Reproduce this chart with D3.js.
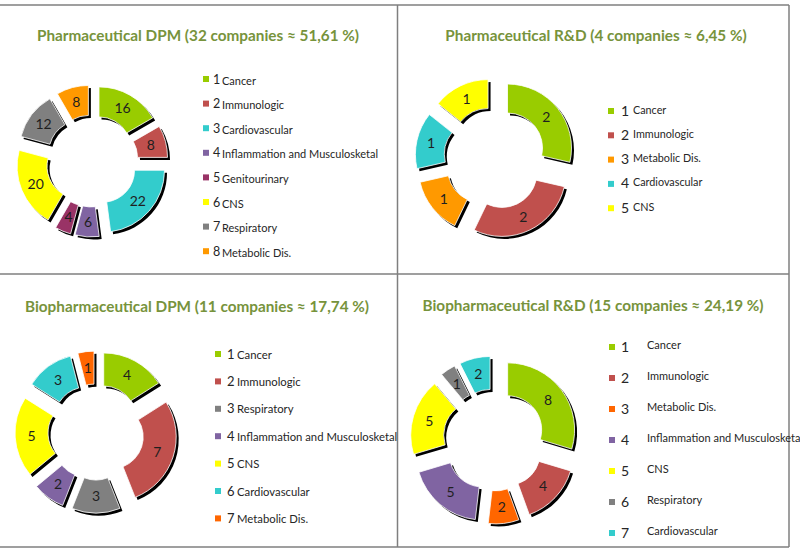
<!DOCTYPE html>
<html>
<head lang="en">
    <meta charset="UTF-8">
    <title>Therapeutic areas</title>
    <script src="https://cdn.jsdelivr.net/npm/d3@7"></script>
    <style>
        body { margin: 0; background: #fff; }
        text { font-family: Lato, "Open Sans", sans-serif; }
    </style>
</head>
<body>
<script>
    // chart data
    var titles = [
        "Pharmaceutical DPM (32 companies \u2248  51,61 %)",
        "Pharmaceutical R&D (4 companies \u2248  6,45 %)",
        "Biopharmaceutical DPM (11 companies \u2248 17,74 %)",
        "Biopharmaceutical R&D (15 companies \u2248 24,19 %)"
    ];
    var phDpmCats = ["Cancer", "Immunologic", "Cardiovascular", "Inflammation and Musculosketal", "Genitourinary", "CNS", "Respiratory", "Metabolic Dis."];
    var phDpmValues = [16, 8, 22, 6, 4, 20, 12, 8];
    var phRdCats = ["Cancer", "Immunologic", "Metabolic Dis.", "Cardiovascular", "CNS"];
    var phRdValues = [2, 2, 1, 1, 1];
    var bioDpmCats = ["Cancer", "Immunologic", "Respiratory", "Inflammation and Musculosketal", "CNS", "Cardiovascular", "Metabolic Dis."];
    var bioDpmValues = [4, 7, 3, 2, 5, 3, 1];
    var bioRdCats = ["Cancer", "Immunologic", "Metabolic Dis.", "Inflammation and Musculosketal", "CNS", "Respiratory", "Cardiovascular"];
    var bioRdValues = [8, 4, 2, 5, 5, 1, 2];

    var colorOf = {
        "Cancer": "#99CC00",
        "Immunologic": "#C0504D",
        "Cardiovascular": "#33CCCC",
        "Inflammation and Musculosketal": "#8064A2",
        "Genitourinary": "#993366",
        "CNS": "#FFFF00",
        "Respiratory": "#808080",
        "Metabolic Dis.": "#FF9900"
    };
    var bioMetabolic = "#FF6600";

    var svg = d3.select("body").append("svg")
            .attr("width", 800)
            .attr("height", 548);

    // panel frame
    var frame = svg.append("g").attr("stroke", "#7f7f7f").attr("stroke-width", 1.5);
    frame.append("line").attr("x1", 0).attr("x2", 789).attr("y1", 5).attr("y2", 5);
    frame.append("line").attr("x1", 0).attr("x2", 789).attr("y1", 274).attr("y2", 274);
    frame.append("line").attr("x1", 0).attr("x2", 789).attr("y1", 547).attr("y2", 547);
    frame.append("line").attr("x1", 397.5).attr("x2", 397.5).attr("y1", 5).attr("y2", 547);
    frame.append("line").attr("x1", 789).attr("x2", 789).attr("y1", 5).attr("y2", 547);

    var panels = [
        {title: titles[0], tx: 198, ty: 41, cats: phDpmCats, values: phDpmValues, bio: false,
         cx: 92, cy: 161, R: 62, r: 32, e: 14,
         lx: 203, ly: 79, step: 24.6, nx: 213, labx: 222, nsize: 12.5, lsize: 11, lshift: 1},
        {title: titles[1], tx: 596, ty: 41, cats: phRdCats, values: phRdValues, bio: false,
         cx: 495, cy: 158, R: 64, r: 35, e: 16,
         lx: 608, ly: 111, step: 24.3, nx: 621, labx: 633, nsize: 14, lsize: 10.8, lshift: -2},
        {title: titles[2], tx: 197, ty: 312, cats: bioDpmCats, values: bioDpmValues, bio: true,
         cx: 96, cy: 432, R: 65, r: 32, e: 16,
         lx: 215, ly: 354, step: 27.4, nx: 227, labx: 237, nsize: 13, lsize: 11.3, lshift: 0},
        {title: titles[3], tx: 593, ty: 311, cats: bioRdCats, values: bioRdValues, bio: true,
         cx: 494, cy: 440, R: 67, r: 34, e: 17,
         lx: 609, ly: 347, step: 31, nx: 621, labx: 647, nsize: 14, lsize: 11, lshift: -3}
    ];

    panels.forEach(function(p) {
        var data = p.cats.map(function(c, i) { return {name: c, value: p.values[i]}; });
        var fill = function(d) {
            if (p.bio && d.data.name === "Metabolic Dis.") return bioMetabolic;
            return colorOf[d.data.name];
        };

        svg.append("text")
                .attr("x", p.tx)
                .attr("y", p.ty)
                .attr("text-anchor", "middle")
                .style("font-size", "15.3px")
                .style("font-weight", "bold")
                .style("fill", "#77933C")
                .text(p.title);

        var pie = d3.pie().sort(null).value(function(d) { return d.value; });
        var arc = d3.arc().innerRadius(p.r).outerRadius(p.R);
        var arcs = pie(data);

        var g = svg.append("g").attr("transform", "translate(" + p.cx + "," + p.cy + ")");
        var slice = g.selectAll("g.slice")
                .data(arcs)
                .enter()
                .append("g")
                .attr("class", "slice")
                .attr("transform", function(d) {
                    var a = (d.startAngle + d.endAngle) / 2;
                    return "translate(" + Math.sin(a) * p.e + "," + (-Math.cos(a) * p.e) + ")";
                });
        // dark edge to fake the 3D look
        slice.append("path")
                .attr("d", arc)
                .attr("transform", "translate(2.5,2.5)")
                .style("fill", "#000");
        slice.append("path")
                .attr("d", arc)
                .style("fill", fill)
                .style("stroke", "#fff")
                .style("stroke-width", 0.8);
        slice.append("text")
                .attr("transform", function(d) { return "translate(" + arc.centroid(d) + ")"; })
                .attr("text-anchor", "middle")
                .attr("dy", "0.35em")
                .style("font-size", "14px")
                .style("fill", "#1f1f1f")
                .text(function(d) { return d.data.value; });

        // legend
        var leg = svg.append("g");
        var row = leg.selectAll("g")
                .data(arcs)
                .enter()
                .append("g")
                .attr("transform", function(d, i) { return "translate(0," + (p.ly + i * p.step) + ")"; });
        row.append("rect")
                .attr("x", p.lx)
                .attr("y", -3)
                .attr("width", 6)
                .attr("height", 6)
                .style("fill", fill);
        row.append("text")
                .attr("x", p.nx)
                .attr("y", 4.5)
                .style("font-size", p.nsize + "px")
                .style("fill", "#262626")
                .text(function(d, i) { return i + 1; });
        row.append("text")
                .attr("x", p.labx)
                .attr("y", 4.5 + p.lshift)
                .style("font-size", p.lsize + "px")
                .style("fill", "#262626")
                .text(function(d) { return d.data.name; });
    });
</script>
</body>
</html>
